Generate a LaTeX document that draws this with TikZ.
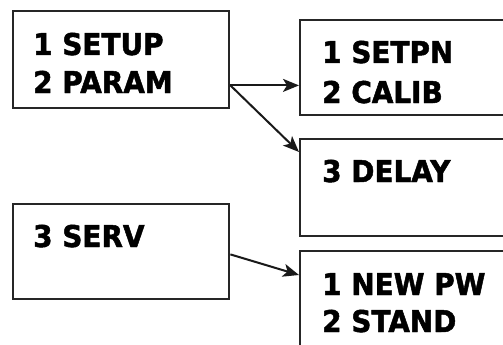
\documentclass[tikz,border=0pt]{standalone}
\usepackage{fontspec}
\setmainfont{DejaVu Sans}[FakeStretch=0.93,BoldFeatures={FakeBold=1.6}]
\usetikzlibrary{arrows.meta}
\tikzset{
  menubox/.style={draw=black!85, line width=2.4pt, rectangle, inner sep=0pt, anchor=north west},
  menutext/.style={anchor=base west, inner sep=0pt, font=\fontsize{30}{36}\selectfont\bfseries},
  link/.style={draw=black!90, line width=2pt, -{Stealth[length=16pt,width=13pt,inset=4pt]}}
}
\begin{document}
\begin{tikzpicture}[x=1pt,y=-1pt]
\useasboundingbox (0,0) rectangle (503,345);
\fill[white] (0,0) rectangle (503,345);
% boxes
\node[menubox, minimum width=216pt, minimum height=97pt] (A) at (12,10) {};
\node[menubox, minimum width=230pt, minimum height=95pt] (B) at (299,19) {};
\node[menubox, minimum width=230pt, minimum height=97pt] (C) at (299,138) {};
\node[menubox, minimum width=216pt, minimum height=95pt] (D) at (12,203) {};
\node[menubox, minimum width=230pt, minimum height=120pt] (E) at (299,250) {};
% texts
\node[menutext] (a1) at (33,55) {1 SETUP};
\node[menutext] (a2) at (33,93) {2 PARAM};
\node[menutext] (b1) at (322,63) {1 SETPN};
\node[menutext] (b2) at (322,103) {2 CALIB};
\node[menutext] (c1) at (322,182) {3 DELAY};
\node[menutext] (d1) at (33,247) {3 SERV};
\node[menutext] (e1) at (322,295) {1 NEW PW};
\node[menutext] (e2) at (322,332) {2 STAND};
% connectors
\coordinate (aout) at ([yshift=24pt]A.south east);
\draw[link] (aout) -- ([yshift=24pt]A.south east -| B.west);
\draw[link] (aout) -- ([yshift=-14pt]C.north west);
\draw[link] ([yshift=46pt]D.south east) -- ([yshift=-25pt]E.north west);
\end{tikzpicture}
\end{document}
